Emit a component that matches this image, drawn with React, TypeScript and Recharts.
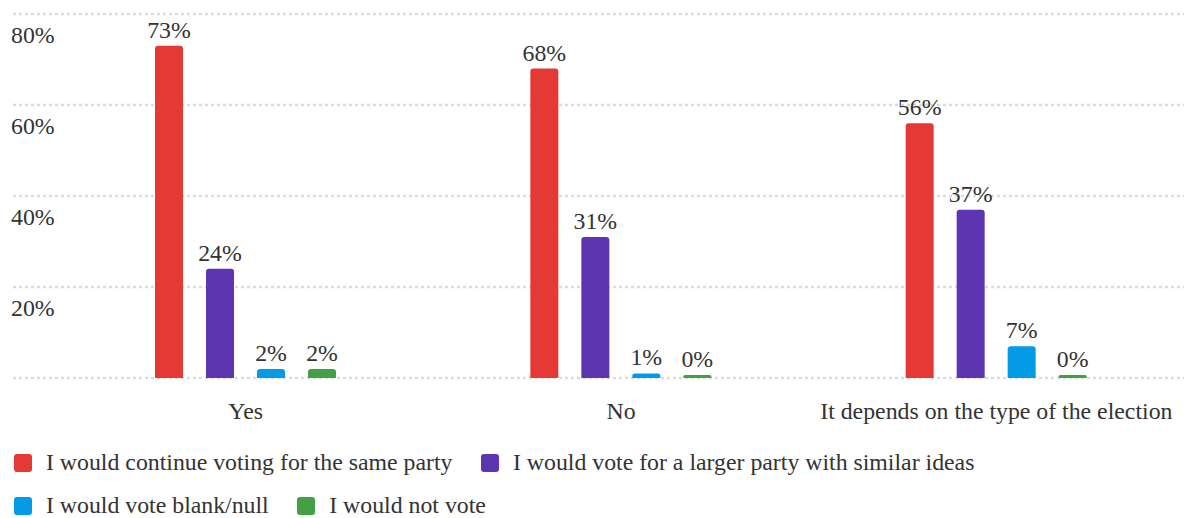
import { BarChart, Bar, XAxis, YAxis, CartesianGrid, Legend, LabelList } from 'recharts';

const categories = ['Yes', 'No', 'It depends on the type of the election'];
const sameParty = [73, 68, 56];
const largerParty = [24, 31, 37];
const blankNull = [2, 1, 7];
const notVote = [2, 0, 0];

const seriesKeys = ['sameParty', 'largerParty', 'blankNull', 'notVote'];
const seriesNames = [
  'I would continue voting for the same party',
  'I would vote for a larger party with similar ideas',
  'I would vote blank/null',
  'I would not vote',
];
const seriesColors = ['#e53935', '#5e35b1', '#039be5', '#43a047'];
const yTicks = [0, 20, 40, 60, 80];

const FONT = '"Liberation Serif", "Times New Roman", serif';
const FONT_SIZE = 23.8;
const TEXT_COLOR = '#333';

const chartData = categories.map((name, i) => ({
  name,
  sameParty: sameParty[i],
  largerParty: largerParty[i],
  blankNull: blankNull[i],
  notVote: notVote[i],
}));

const YTick = ({ y, payload }: any) => {
  if (payload.value === 0) return <g />;
  return (
    <text x={11} y={y + 29} fill={TEXT_COLOR} fontSize={FONT_SIZE} fontFamily={FONT} textAnchor="start">
      {`${payload.value}%`}
    </text>
  );
};

const XTick = ({ x, y, payload }: any) => (
  <text x={x} y={y + 41} fill={TEXT_COLOR} fontSize={FONT_SIZE} fontFamily={FONT} textAnchor="middle">
    {payload.value}
  </text>
);

const LegendContent = () => (
  <div
    style={{
      display: 'flex',
      flexWrap: 'wrap',
      columnGap: 28.5,
      paddingLeft: 14,
      paddingTop: 18,
      fontFamily: FONT,
      fontSize: FONT_SIZE,
      color: TEXT_COLOR,
    }}
  >
    {seriesNames.map((name, i) => (
      <div key={name} style={{ display: 'flex', alignItems: 'center', gap: 14, height: 43, whiteSpace: 'nowrap' }}>
        <span style={{ width: 18, height: 18, borderRadius: 3, background: seriesColors[i], display: 'inline-block' }} />
        <span>{name}</span>
      </div>
    ))}
  </div>
);

export default function App() {
  return (
    <>
      <style>{'body { margin: 0; }'}</style>
      <BarChart
        width={1184}
        height={518}
        data={chartData}
        margin={{ top: 14, right: 0, left: 12, bottom: 0 }}
        barSize={28}
        barGap={23}
      >
        <CartesianGrid vertical={false} stroke="#dcdcdc" strokeWidth={2.5} strokeDasharray="3 3" />
        <XAxis
          dataKey="name"
          axisLine={false}
          tickLine={false}
          tickSize={0}
          tickMargin={0}
          height={45}
          padding={{ left: 45, right: 0 }}
          tick={<XTick />}
          interval={0}
        />
        <YAxis
          width={1}
          domain={[0, 80]}
          ticks={yTicks}
          axisLine={false}
          tickLine={false}
          tick={<YTick />}
        />
        <Legend verticalAlign="bottom" height={95} wrapperStyle={{ left: 0, bottom: 0, width: 1184 }} content={<LegendContent />} />
        {seriesKeys.map((key, i) => (
          <Bar
            key={key}
            dataKey={key}
            name={seriesNames[i]}
            fill={seriesColors[i]}
            radius={[3, 3, 0, 0]}
            minPointSize={3}
            isAnimationActive={false}
          >
            <LabelList
              dataKey={key}
              position="top"
              offset={8}
              formatter={(v: any) => `${v}%`}
              fill={TEXT_COLOR}
              fontSize={FONT_SIZE}
              fontFamily={FONT}
            />
          </Bar>
        ))}
      </BarChart>
    </>
  );
}
